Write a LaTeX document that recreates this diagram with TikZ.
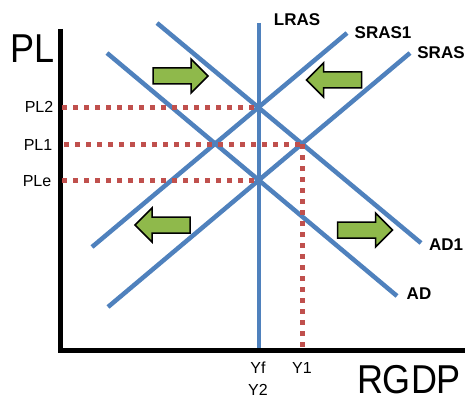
\documentclass[tikz,border=0pt]{standalone}
\usepackage{fontspec}
\setmainfont{Liberation Sans}
\definecolor{curveblue}{HTML}{4F81BD}
\definecolor{dotred}{HTML}{C0504D}
\definecolor{arrowgreen}{HTML}{8FB94B}
\begin{document}
\begin{tikzpicture}[x=1pt,y=-1pt,
  curve/.style={draw=curveblue,line width=4.5pt},
  axisline/.style={draw=black,line width=5pt,line join=miter},
  guide/.style={draw=dotred,line width=5pt,dash pattern=on 5pt off 6pt},
  lab/.style={font=\fontsize{17}{17}\selectfont\bfseries,inner sep=0pt},
  tick/.style={font=\fontsize{16}{16}\selectfont,inner sep=0pt},
  big/.style={font=\fontsize{36}{36}\selectfont,inner sep=0pt,yscale=1.12},
  shiftarrow/.style={draw=black,line width=1.5pt,fill=arrowgreen,line join=miter},
  pics/garrowright/.style={code={\path[shiftarrow] (-27.5,-8) -- (10.5,-8) -- (10.5,-17) -- (27.5,0) -- (10.5,17) -- (10.5,8) -- (-27.5,8) -- cycle;}},
  pics/garrowleft/.style={code={\path[shiftarrow] (27.5,-8) -- (-10.5,-8) -- (-10.5,-17) -- (-27.5,0) -- (-10.5,17) -- (-10.5,8) -- (27.5,8) -- cycle;}}]
\useasboundingbox (0,0) rectangle (465,401);

% axes
\coordinate (ytop) at (60,29);
\coordinate (origin) at (60,350);
\coordinate (xend) at (465,350);

% curve end points
\coordinate (lrasT) at (259,23);
\coordinate (lrasB) at (259,348);
\coordinate (srasoneT) at (347,33);
\coordinate (srasoneB) at (92,247);
\coordinate (srasT) at (410,53);
\coordinate (srasB) at (108,307);
\coordinate (adoneT) at (157,23);
\coordinate (adoneB) at (421,243);
\coordinate (adT) at (107,53);
\coordinate (adB) at (397,296);

% equilibria
\coordinate (eq0) at (259,180.5);
\coordinate (eq2) at (259,107.5);
\coordinate (eq1) at (302,144);
\coordinate (pl2) at (62,107.5);
\coordinate (pl1) at (64,144);
\coordinate (ple) at (62,180.5);
\coordinate (yone) at (302,347);

% blue curves
\draw[curve] (lrasT) -- (lrasB);
\draw[curve] (srasoneB) -- (srasoneT);
\draw[curve] (srasB) -- (srasT);
\draw[curve] (adoneT) -- (adoneB);
\draw[curve] (adT) -- (adB);

% axes
\draw[axisline] (ytop) -- (origin) -- (xend);

% guides
\draw[guide] (pl2) -- (eq2);
\draw[guide] (pl1) -- (eq1);
\draw[guide] (ple) -- (eq0);
\draw[guide] (eq1) -- (yone);

% shift arrows
\pic at (180.5,76) {garrowright};
\pic at (334,80) {garrowleft};
\pic at (162.5,225) {garrowleft};
\pic at (365,230) {garrowright};

% labels
\node[lab] (lLRAS) at (297,20) {LRAS};
\node[lab] (lSRASone) at (383,33) {SRAS1};
\node[lab] (lSRAS) at (441,53) {SRAS};
\node[lab] (lADone) at (446,245) {AD1};
\node[lab] (lAD) at (419,294) {AD};

\node[tick] (lPLtwo) at (39,107) {PL2};
\node[tick] (lPLone) at (38,145) {PL1};
\node[tick] (lPLe) at (37,181) {PLe};
\node[tick] (lYf) at (258,368) {Yf};
\node[tick] (lYtwo) at (258,390) {Y2};
\node[tick] (lYone) at (302,368) {Y1};

\node[big] (lPL) at (33,49) {PL};
\node[big] (lRGDP) at (409,380) {RGDP};
\end{tikzpicture}
\end{document}
